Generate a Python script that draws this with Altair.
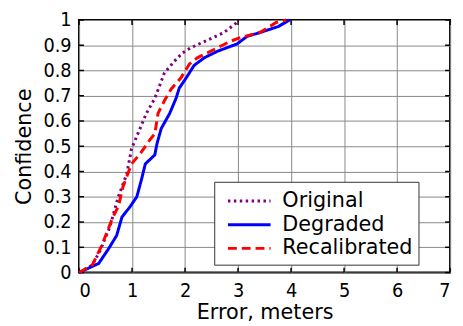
import altair as alt
import pandas as pd

# ---- data ----
series_names = ["Original", "Degraded", "Recalibrated"]

orig_x = [0, 0.25, 0.40, 0.58, 0.74, 0.90, 0.99, 1.12, 1.27, 1.43, 1.61, 1.80, 1.955, 2.11, 2.42, 2.73, 2.98]
orig_y = [0, 0.03, 0.088, 0.18, 0.30, 0.39, 0.49, 0.555, 0.63, 0.69, 0.79, 0.837, 0.87, 0.89, 0.92, 0.95, 0.99]

degr_x = [0, 0.37, 0.56, 0.71, 0.81, 0.96, 1.09, 1.18, 1.25, 1.43, 1.47, 1.55, 1.71, 1.83, 1.89, 2.02, 2.17,
          2.36, 2.61, 2.98, 3.17, 3.41, 3.76, 3.97]
degr_y = [0, 0.036, 0.095, 0.147, 0.22, 0.26, 0.30, 0.37, 0.43, 0.466, 0.51, 0.57, 0.63, 0.69, 0.73, 0.77, 0.82,
          0.85, 0.876, 0.905, 0.935, 0.95, 0.974, 1.0]

reca_x = [0, 0.25, 0.43, 0.62, 0.745, 0.83, 0.99, 1.15, 1.335, 1.43, 1.49, 1.61, 1.74, 1.92, 2.08, 2.23,
          2.48, 2.85, 3.04, 3.41, 3.72, 3.91]
reca_y = [0, 0.03, 0.108, 0.21, 0.264, 0.34, 0.43, 0.47, 0.525, 0.55, 0.63, 0.68, 0.727, 0.77, 0.825, 0.85,
          0.876, 0.915, 0.93, 0.95, 0.99, 1.0]

x_ticks = [0, 1, 2, 3, 4, 5, 6, 7]
y_ticks = [0, 0.1, 0.2, 0.3, 0.4, 0.5, 0.6, 0.7, 0.8, 0.9, 1]

series_colors = ["#800080", "#0000ff", "#ff0000"]
series_dash = [[2.5, 3.5], [1, 0], [9, 5]]

rows = []
for name, xs, ys in zip(series_names, [orig_x, degr_x, reca_x], [orig_y, degr_y, reca_y]):
    for i, (xv, yv) in enumerate(zip(xs, ys)):
        rows.append({"series": name, "error": xv, "conf": yv, "idx": i})
df = pd.DataFrame(rows)

W, H = 376, 256
LABEL_FONT = "Liberation Sans Narrow, Arial Narrow, DejaVu Sans Condensed, Liberation Sans, sans-serif"
TITLE_FONT = "DejaVu Sans, Verdana, sans-serif"

xscale = alt.Scale(domain=[0, 7], nice=False)
yscale = alt.Scale(domain=[0, 1], nice=False)

x_axis = alt.Axis(values=x_ticks, title="Error, meters", labelPadding=8, labelAngle=0,
                  titleX=W / 2, titleY=47, titleBaseline="alphabetic", titleAlign="center")
y_axis = alt.Axis(values=y_ticks, format="~g", title="Confidence", labelPadding=8,
                  titleX=-49, titleY=H / 2, titleAngle=-90, titleBaseline="alphabetic",
                  titleAlign="center")

legend = alt.Legend(title=None, orient="none", legendX=137, legendY=164,
                    symbolType="M-1.8,0H1.8", symbolSize=576, symbolStrokeWidth=3,
                    labelFont=TITLE_FONT, labelFontSize=21, labelColor="black",
                    labelOffset=20, padding=6, rowPadding=0, symbolOffset=16,
                    strokeColor="#333333", fillColor="white",
                    labelExpr="datum.label + '\u00a0\u00a0\u00a0'")

lines = alt.Chart(df).mark_line(strokeWidth=3, strokeCap="butt").encode(
    x=alt.X("error:Q", scale=xscale, axis=x_axis),
    y=alt.Y("conf:Q", scale=yscale, axis=y_axis),
    color=alt.Color("series:N", scale=alt.Scale(domain=series_names, range=series_colors), legend=legend),
    strokeDash=alt.StrokeDash("series:N", scale=alt.Scale(domain=series_names, range=series_dash), legend=legend),
    order="idx:Q",
)

xt = pd.DataFrame({"error": x_ticks})
yt = pd.DataFrame({"conf": y_ticks})

tick_bottom = alt.Chart(xt).mark_rule(color="black", strokeWidth=1.5).encode(
    x=alt.X("error:Q", scale=xscale, axis=x_axis), y=alt.value(H), y2=alt.value(H - 5))
tick_top = alt.Chart(xt).mark_rule(color="black", strokeWidth=1.5).encode(
    x=alt.X("error:Q", scale=xscale, axis=x_axis), y=alt.value(0), y2=alt.value(5))
tick_left = alt.Chart(yt).mark_rule(color="black", strokeWidth=1.5).encode(
    y=alt.Y("conf:Q", scale=yscale, axis=y_axis), x=alt.value(0), x2=alt.value(5))
tick_right = alt.Chart(yt).mark_rule(color="black", strokeWidth=1.5).encode(
    y=alt.Y("conf:Q", scale=yscale, axis=y_axis), x=alt.value(W), x2=alt.value(W - 5))

chart = alt.layer(tick_bottom, tick_top, tick_left, tick_right, lines).properties(
    width=W, height=H,
    autosize=alt.AutoSizeParams(type="none"),
    padding={"left": 72, "top": 10, "right": 5, "bottom": 50},
).configure_view(
    stroke="black", strokeWidth=2
).configure_axis(
    grid=True, gridColor="#888888", gridWidth=1, domain=False, ticks=False, tickSize=0,
    labelFont=LABEL_FONT, labelFontSize=20, labelColor="black",
    titleFont=TITLE_FONT, titleFontSize=21, titleFontWeight="normal", titleColor="black",
)

chart.save("out.html", embed_options={"renderer": "svg", "actions": False})
